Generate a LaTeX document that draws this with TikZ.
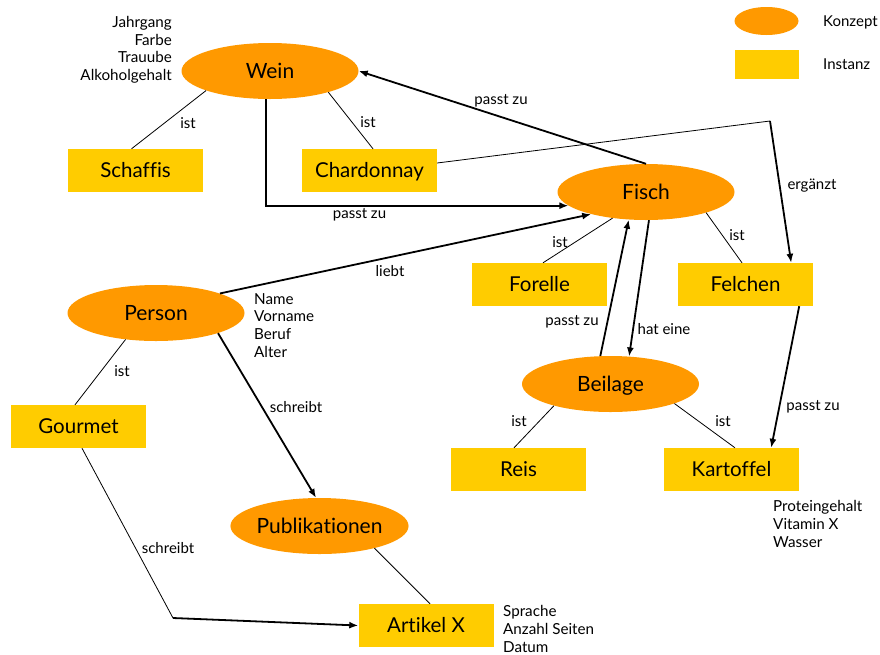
\documentclass[tikz,border=0pt]{standalone}
\usepackage{fontspec}
\setmainfont{Lato}[Ligatures=NoCommon]
\usetikzlibrary{arrows.meta,shapes.geometric}
\definecolor{konzept}{RGB}{255,153,0}
\definecolor{instanz}{RGB}{255,204,0}
\begin{document}
\begin{tikzpicture}[x=1pt,y=-1pt,
  konz/.style={ellipse, fill=konzept, minimum width=177pt, minimum height=56pt, inner sep=0pt,
    font=\fontsize{21}{25}\selectfont, text height=15.1pt, text depth=0pt},
  inst/.style={rectangle, fill=instanz, minimum width=135pt, minimum height=43pt, inner sep=0pt,
    font=\fontsize{20.5}{24}\selectfont, text height=14.8pt, text depth=0pt},
  lbl/.style={font=\fontsize{15}{18}\selectfont, inner sep=0pt, anchor=base},
  attr/.style={font=\fontsize{15.2}{17.7}\selectfont, inner sep=0pt},
  ln/.style={line width=0.8pt},
  rel/.style={line width=1.8pt, -{Latex[length=9pt,width=7pt]}},
]
\useasboundingbox (0,0) rectangle (880,654);

% legend
\node[ellipse, fill=konzept, minimum width=64pt, minimum height=28pt, inner sep=0pt] (legk) at (766.5,21) {};
\node[rectangle, fill=instanz, minimum width=64pt, minimum height=29pt, inner sep=0pt] (legi) at (767,64.5) {};
\node[lbl, anchor=base west] (legkt) at (823,26) {Konzept};
\node[lbl, anchor=base west] (legit) at (823,69) {Instanz};

% concepts
\node[konz] (wein) at (270,71) {Wein};
\node[konz] (fisch) at (646,192) {Fisch};
\node[konz] (person) at (156,313) {Person};
\node[konz] (beilage) at (610.5,384) {Beilage};
\node[konz] (publ) at (319.5,526) {Publikationen};

% instances
\node[inst] (schaffis) at (135.5,170.5) {Schaffis};
\node[inst] (chardonnay) at (369.5,170.5) {Chardonnay};
\node[inst] (forelle) at (539.5,284.5) {Forelle};
\node[inst] (felchen) at (745.5,284.5) {Felchen};
\node[inst] (gourmet) at (78.5,426.5) {Gourmet};
\node[inst] (reis) at (518.5,469.5) {Reis};
\node[inst] (kartoffel) at (731.5,469.5) {Kartoffel};
\node[inst] (artikel) at (426,625.5) {Artikel X};

% attributes
\node[attr, anchor=north east, align=right] (weinattr) at (172,16) {Jahrgang\\Farbe\\Trauube\\Alkoholgehalt};
\node[attr, anchor=north west, align=left] (personattr) at (254,293) {Name\\Vorname\\Beruf\\Alter};
\node[attr, anchor=north west, align=left] (artikelattr) at (503,605.5) {Sprache\\Anzahl Seiten\\Datum};
\node[attr, anchor=north west, align=left] (kartattr) at (773,500.5) {Proteingehalt\\Vitamin X\\Wasser};

% corners
\coordinate (ergcorner) at (770,121);
\coordinate (gcorner) at (173,618);

% connectors
\draw[ln] ([xshift=-4pt]schaffis.north) -- (wein.197);
\draw[ln] ([xshift=3.5pt]chardonnay.north) -- (wein.340);
\draw[rel] (fisch.north) -- (wein.east);
\draw[rel] (wein.-98) |- (fisch.190);
\draw[ln] ([yshift=7.5pt]chardonnay.east) -- (ergcorner);
\draw[rel] (ergcorner) -- ([xshift=-22pt]felchen.north east);
\draw[ln] (fisch.218) -- ([xshift=3.5pt]forelle.north);
\draw[ln] (fisch.341) -- ([xshift=-3.5pt]felchen.north);
\draw[rel] (person.17) -- (fisch.202);
\draw[rel] (beilage.110) -- (fisch.238);
\draw[rel] (fisch.-84) -- (beilage.56);
\draw[ln] (beilage.201) -- ([xshift=-4.5pt]reis.north);
\draw[ln] (beilage.343) -- ([xshift=3.5pt]kartoffel.north);
\draw[rel] ([xshift=-14pt]felchen.south east) -- ([xshift=-28pt]kartoffel.north east);
\draw[ln] (person.221) -- ([xshift=-3.5pt]gourmet.north);
\draw[rel] (person.342) -- (publ.97);
\draw[ln] (publ.338) -- ([xshift=4pt]artikel.north);
\draw[ln] ([xshift=3.5pt]gourmet.south) -- (gcorner);
\draw[rel] (gcorner) -- (artikel.west);

% labels
\node[lbl] (l1) at (188,128) {ist};
\node[lbl] (l2) at (368,127) {ist};
\node[lbl] (l3) at (359.5,218) {passt zu};
\node[lbl] (l4) at (501,104) {passt zu};
\node[lbl] (l5) at (812,189) {ergänzt};
\node[lbl] (l6) at (390,276.7) {liebt};
\node[lbl] (l7) at (122,376) {ist};
\node[lbl] (l8) at (296,412) {schreibt};
\node[lbl] (l9) at (168,553) {schreibt};
\node[lbl] (l10) at (560,247) {ist};
\node[lbl] (l11) at (737,240.7) {ist};
\node[lbl] (l12) at (572,325) {passt zu};
\node[lbl] (l13) at (664,334) {hat eine};
\node[lbl] (l14) at (519,426.7) {ist};
\node[lbl] (l15) at (723,426) {ist};
\node[lbl] (l16) at (813,410) {passt zu};
\end{tikzpicture}
\end{document}
